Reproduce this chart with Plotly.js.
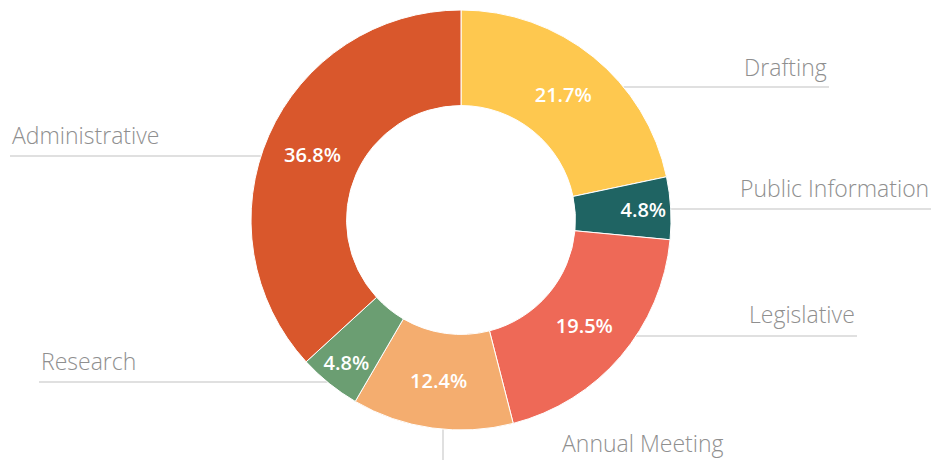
<!DOCTYPE html>
<html>
<head>
<meta charset="utf-8">
<script src="https://cdn.plot.ly/plotly-3.0.1.min.js"></script>
<style>html,body{margin:0;padding:0;background:#fff;}#chart{width:931px;height:460px;}</style>
</head>
<body>
<div id="chart"></div>
<script>
const categories = ["Drafting", "Public Information", "Legislative", "Annual Meeting", "Research", "Administrative"];
const shares = [21.7, 4.8, 19.5, 12.4, 4.8, 36.8];
const colors = ["#FEC84F", "#1F6463", "#EE6957", "#F4AD6F", "#6B9E72", "#D9572C"];

const W = 931, H = 460;
const cx = 461, cy = 220, R = 210;

// label layout (paper pixels): text anchor, leader line y and outer end
const labelLayout = [
  {tx: 829, ty: 67, anchor: "right", ly: 87, lx: 829},
  {tx: 931, ty: 188, anchor: "right", ly: 209, lx: 931},
  {tx: 857, ty: 314, anchor: "right", ly: 336, lx: 857},
  {tx: 560, ty: 443, anchor: "left", vertical: true, vx: 443},
  {tx: 39, ty: 361, anchor: "left", ly: 382, lx: 39},
  {tx: 10, ty: 135, anchor: "left", ly: 156, lx: 10}
];

const px = x => x / W;
const py = y => 1 - y / H;

const annotations = [];
const shapes = [];
labelLayout.forEach((L, i) => {
  annotations.push({
    xref: "paper", yref: "paper", x: px(L.tx), y: py(L.ty),
    xanchor: L.anchor, yanchor: "middle", showarrow: false,
    text: categories[i],
    font: {family: "'Open Sans', sans-serif", size: 23, color: "#8f8f8f", weight: 300}
  });
  const lineStyle = {color: "#e0e0e0", width: 2};
  if (L.vertical) {
    shapes.push({type: "line", xref: "paper", yref: "paper", layer: "below",
      x0: px(L.vx), x1: px(L.vx), y0: py(cy + Math.sqrt(R*R - (L.vx-cx)*(L.vx-cx))), y1: py(H), line: lineStyle});
  } else {
    const dx = Math.sqrt(R*R - (L.ly-cy)*(L.ly-cy));
    const edge = L.anchor === "right" ? cx + dx : cx - dx;
    shapes.push({type: "line", xref: "paper", yref: "paper", layer: "below",
      x0: px(L.lx), x1: px(edge), y0: py(L.ly), y1: py(L.ly), line: lineStyle});
  }
});

const trace = {
  type: "pie",
  labels: categories,
  values: shares,
  sort: false,
  direction: "clockwise",
  rotation: 0,
  hole: 0.545,
  marker: {colors: colors, line: {color: "#ffffff", width: 1}},
  texttemplate: "%{value:.1f}%",
  textposition: "inside",
  insidetextorientation: "horizontal",
  insidetextfont: {family: "'Open Sans', sans-serif", size: 20, color: "#ffffff", weight: 600},
  domain: {x: [(cx - R) / W, (cx + R) / W], y: [1 - (cy + R) / H, 1 - (cy - R) / H]},
  showlegend: false,
  hoverinfo: "label+percent"
};

Plotly.newPlot("chart", [trace], {
  width: W, height: H,
  margin: {l: 0, r: 0, t: 0, b: 0},
  paper_bgcolor: "#ffffff",
  showlegend: false,
  annotations: annotations,
  shapes: shapes
}, {displayModeBar: false, staticPlot: true});
</script>
</body>
</html>
